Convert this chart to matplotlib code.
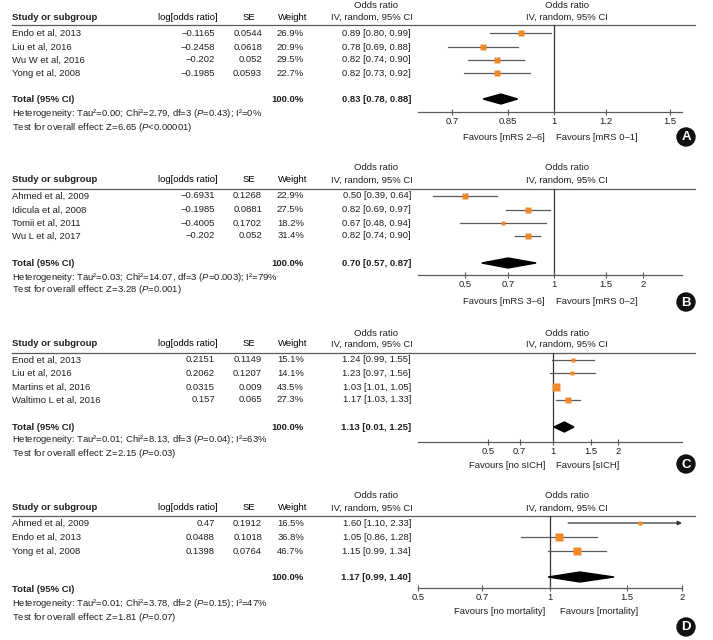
import matplotlib.pyplot as plt
from matplotlib.patches import Polygon, Circle
from matplotlib.ticker import NullLocator

plt.rcParams['font.family'] = ['Liberation Sans', 'DejaVu Sans']
plt.rcParams['mathtext.fontset'] = 'custom'
plt.rcParams['mathtext.rm'] = 'Liberation Sans'
plt.rcParams['mathtext.it'] = 'Liberation Sans:italic'
plt.rcParams['mathtext.bf'] = 'Liberation Sans:bold'

W, H = 713, 640
FS = 6.8
TXT = '#231f20'
GREY = '#5a5a5a'
ORANGE = '#ee8a2c'

# ============================================================
# Data
# ============================================================
# ---- A ----
a_studies = ["Endo et al, 2013", "Liu et al, 2016", "Wu W et al, 2016", "Yong et al, 2008"]
a_logor = [-0.1165, -0.2458, -0.202, -0.1985]
a_se = [0.0544, 0.0618, 0.052, 0.0593]
a_weight = [26.9, 20.9, 29.5, 22.7]
a_or = [0.89, 0.78, 0.82, 0.82]
a_lo = [0.80, 0.69, 0.74, 0.73]
a_hi = [0.99, 0.88, 0.90, 0.92]
a_total = [0.83, 0.78, 0.88]
a_total_text = "0.83 [0.78, 0.88]"
a_het = "Heterogeneity: Tau²=0.00; Chi²=2.79, df=3 ($\\mathit{P}$=0.43); I²=0%"
a_test = "Test for overall effect: Z=6.65 ($\\mathit{P}$<0.00001)"
a_ticks = [0.7, 0.85, 1, 1.2, 1.5]
a_ticklabels = ["0.7", "0.85", "1", "1.2", "1.5"]
a_xlim = (0.621, 1.564)
a_favours = ("Favours [mRS 2–6]", "Favours [mRS 0–1]")

# ---- B ----
b_studies = ["Ahmed et al, 2009", "Idicula et al, 2008", "Tomii et al, 2011", "Wu L et al, 2017"]
b_logor = [-0.6931, -0.1985, -0.4005, -0.202]
b_se = [0.1268, 0.0881, 0.1702, 0.052]
b_weight = [22.9, 27.5, 18.2, 31.4]
b_or = [0.50, 0.82, 0.67, 0.82]
b_lo = [0.39, 0.69, 0.48, 0.74]
b_hi = [0.64, 0.97, 0.94, 0.90]
b_total = [0.70, 0.57, 0.87]
b_total_text = "0.70 [0.57, 0.87]"
b_het = "Heterogeneity: Tau²=0.03; Chi²=14.07, df=3 ($\\mathit{P}$=0.003); I²=79%"
b_test = "Test for overall effect: Z=3.28 ($\\mathit{P}$=0.001)"
b_ticks = [0.5, 0.7, 1, 1.5, 2]
b_ticklabels = ["0.5", "0.7", "1", "1.5", "2"]
b_xlim = (0.347, 2.71)
b_favours = ("Favours [mRS 3–6]", "Favours [mRS 0–2]")

# ---- C ----
c_studies = ["Enod et al, 2013", "Liu et al, 2016", "Martins et al, 2016", "Waltimo L et al, 2016"]
c_logor = [0.2151, 0.2062, 0.0315, 0.157]
c_se = [0.1149, 0.1207, 0.009, 0.065]
c_weight = [15.1, 14.1, 43.5, 27.3]
c_or = [1.24, 1.23, 1.03, 1.17]
c_lo = [0.99, 0.97, 1.01, 1.03]
c_hi = [1.55, 1.56, 1.05, 1.33]
c_total = [1.13, 1.01, 1.25]
c_total_text = "1.13 [0.01, 1.25]"
c_het = "Heterogeneity: Tau²=0.01; Chi²=8.13, df=3 ($\\mathit{P}$=0.04); I²=63%"
c_test = "Test for overall effect: Z=2.15 ($\\mathit{P}$=0.03)"
c_ticks = [0.5, 0.7, 1, 1.5, 2]
c_ticklabels = ["0.5", "0.7", "1", "1.5", "2"]
c_xlim = (0.237, 3.96)
c_favours = ("Favours [no sICH]", "Favours [sICH]")

# ---- D ----
d_studies = ["Ahmed et al, 2009", "Endo et al, 2013", "Yong et al, 2008"]
d_logor = [0.47, 0.0488, 0.1398]
d_se = [0.1912, 0.1018, 0.0764]
d_weight = [16.5, 36.8, 46.7]
d_or = [1.60, 1.05, 1.15]
d_lo = [1.10, 0.86, 0.99]
d_hi = [2.33, 1.28, 1.34]
d_total = [1.17, 0.99, 1.40]
d_total_text = "1.17 [0.99, 1.40]"
d_het = "Heterogeneity: Tau²=0.01; Chi²=3.78, df=2 ($\\mathit{P}$=0.15); I²=47%"
d_test = "Test for overall effect: Z=1.81 ($\\mathit{P}$=0.07)"
d_ticks = [0.5, 0.7, 1, 1.5, 2]
d_ticklabels = ["0.5", "0.7", "1", "1.5", "2"]
d_xlim = (0.5, 2.0)
d_favours = ("Favours [no mortality]", "Favours [mortality]")

# ============================================================
# Layout (pixel rows of each panel)
# ============================================================
lay_a = dict(odds=5, head=17, line=25, rows=[33, 47, 60, 73], total=99, total_lab=99,
             het=113, test=127, axis=112, fav=137, circ=137, fav_r=556)
lay_b = dict(odds=167, head=180, line=189, rows=[196, 210, 223, 236], total=263, total_lab=263,
             het=277, test=289, axis=275, fav=301, circ=302, fav_r=556)
lay_c = dict(odds=333, head=344, line=353, rows=[360, 373, 387, 400], total=427, total_lab=427,
             het=439, test=453, axis=442, fav=465, circ=464, fav_r=556)
lay_d = dict(odds=496, head=508, line=516, rows=[523, 537, 551], total=577, total_lab=589,
             het=604, test=617, axis=588, fav=611, circ=627, fav_r=560)

PLOT_L, PLOT_R = 418, 682

fig = plt.figure(figsize=(W / 100, H / 100), dpi=100)
bg = fig.add_axes([0, 0, 1, 1])
bg.set_xlim(0, W)
bg.set_ylim(H, 0)
bg.axis('off')


def num(v):
    return str(v).replace('-', '−')


def t(x, y, s, **kw):
    kw.setdefault('va', 'center')
    kw.setdefault('fontsize', FS)
    kw.setdefault('color', TXT)
    bg.text(x, y, s, **kw)


def draw_panel(lay, studies, logor, se, weight, ors, lo, hi, total, total_text,
               het, test, ticks, ticklabels, xlim, favours, letter):
    # headers
    t(376, lay['odds'], "Odds ratio", ha='center')
    t(372, lay['head'], "IV, random, 95% CI", ha='center')
    t(567, lay['odds'], "Odds ratio", ha='center')
    t(567, lay['head'], "IV, random, 95% CI", ha='center')
    t(12, lay['head'], "Study or subgroup", fontweight='bold')
    t(218, lay['head'], "log[odds ratio]", ha='right', color='black')
    t(249, lay['head'], "SE", ha='center', color='black')
    t(293, lay['head'], "Weight", ha='center', color='black')
    bg.plot([12, 695], [lay['line'], lay['line']], color=GREY, lw=0.9)

    # study rows
    for i, y in enumerate(lay['rows']):
        t(12, y, studies[i])
        t(215, y, num(logor[i]), ha='right')
        t(262, y, num(se[i]), ha='right')
        t(304, y, f"{weight[i]:.1f}%", ha='right')
        t(411, y, f"{ors[i]:.2f} [{lo[i]:.2f}, {hi[i]:.2f}]", ha='right')

    # totals
    t(12, lay['total_lab'], "Total (95% CI)", fontweight='bold')
    t(304, lay['total'], "100.0%", ha='right', fontweight='bold')
    t(411, lay['total'], total_text, ha='right', fontweight='bold')
    t(12, lay['het'], het)
    t(12, lay['test'], test)

    # favours + panel letter
    t(545, lay['fav'], favours[0], ha='right')
    t(lay['fav_r'], lay['fav'], favours[1], ha='left')
    bg.add_patch(Circle((686, lay['circ']), 9, color='#111111', zorder=3))
    t(686, lay['circ'] + 0.5, letter, ha='center', color='white', fontsize=9.5,
      fontweight='bold', zorder=4)

    # forest plot
    ax = fig.add_axes([PLOT_L / W, 1 - lay['axis'] / H, (PLOT_R - PLOT_L) / W,
                       (lay['axis'] - lay['line']) / H])
    ax.set_facecolor('none')
    ax.set_xscale('log')
    ax.set_xlim(*xlim)
    ax.set_ylim(lay['axis'], lay['line'])
    ax.axvline(1, color='#333333', lw=0.9, zorder=1)

    for i, y in enumerate(lay['rows']):
        if hi[i] > xlim[1]:
            ax.annotate('', xy=(xlim[1], y), xytext=(lo[i], y),
                        arrowprops=dict(arrowstyle='-|>', color='#333333', lw=0.9,
                                        mutation_scale=6, shrinkA=0, shrinkB=0))
        else:
            ax.plot([lo[i], hi[i]], [y, y], color=GREY, lw=0.9, zorder=2)
        side = 2 + 0.146 * weight[i]
        ax.plot(ors[i], y, marker='s', ms=side * 0.72, color=ORANGE, mec='none',
                zorder=3)

    est, tlo, thi = total
    y = lay['total']
    ax.add_patch(Polygon([[tlo, y], [est, y - 5], [thi, y], [est, y + 5]],
                         closed=True, color='black', zorder=3))

    for s in ['top', 'left', 'right']:
        ax.spines[s].set_visible(False)
    ax.spines['bottom'].set_color(GREY)
    ax.spines['bottom'].set_linewidth(0.9)
    ax.set_yticks([])
    ax.set_xticks(ticks)
    ax.set_xticklabels(ticklabels)
    ax.xaxis.set_minor_locator(NullLocator())
    ax.tick_params(axis='x', direction='inout', length=5, width=0.8, color=GREY,
                   labelsize=FS, labelcolor=TXT, pad=1.2)
    return ax


draw_panel(lay_a, a_studies, a_logor, a_se, a_weight, a_or, a_lo, a_hi, a_total,
           a_total_text, a_het, a_test, a_ticks, a_ticklabels, a_xlim, a_favours, 'A')
draw_panel(lay_b, b_studies, b_logor, b_se, b_weight, b_or, b_lo, b_hi, b_total,
           b_total_text, b_het, b_test, b_ticks, b_ticklabels, b_xlim, b_favours, 'B')
draw_panel(lay_c, c_studies, c_logor, c_se, c_weight, c_or, c_lo, c_hi, c_total,
           c_total_text, c_het, c_test, c_ticks, c_ticklabels, c_xlim, c_favours, 'C')
draw_panel(lay_d, d_studies, d_logor, d_se, d_weight, d_or, d_lo, d_hi, d_total,
           d_total_text, d_het, d_test, d_ticks, d_ticklabels, d_xlim, d_favours, 'D')

fig.savefig('out.png', dpi=100)
